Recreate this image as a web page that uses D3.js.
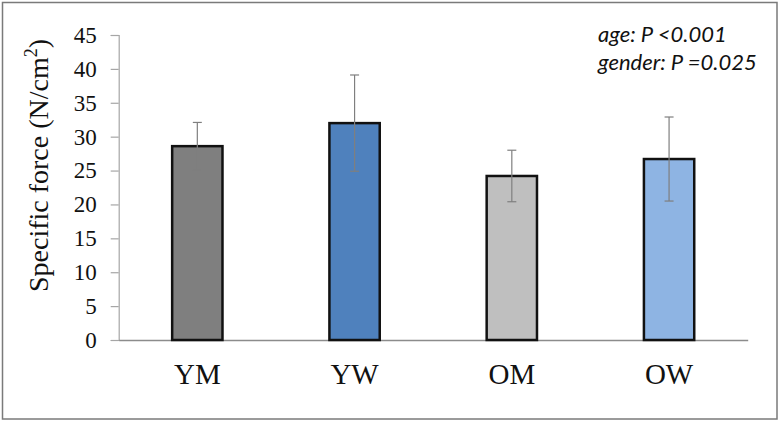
<!DOCTYPE html>
<html><head><meta charset="utf-8">
<script src="https://cdn.jsdelivr.net/npm/d3@7"></script>
<style>body{margin:0;background:#fff}svg{display:block}</style>
</head><body>
<svg id="c" width="780" height="422"></svg>
<script>
const categories = ["YM", "YW", "OM", "OW"];
const means = [28.6, 32.0, 24.2, 26.7];
const sds = [3.5, 7.1, 3.8, 6.2];
const colors = ["#7f7f7f", "#4f81bd", "#bfbfbf", "#8eb4e3"];
const yTicks = [0, 5, 10, 15, 20, 25, 30, 35, 40, 45];
const annotations = ["age: P <0.001", "gender: P =0.025"];

(function () {
const svg = d3.select("#c");
svg.append("rect").attr("x", 2.5).attr("y", 2.5).attr("width", 774.5).attr("height", 416.5)
  .attr("fill", "#fff").attr("stroke", "#7a7a7a").attr("stroke-width", 1.5);

const pL = 118.7, pR = 747.7, pT = 35, pB = 340;
const x = d3.scaleBand().domain(categories).range([pL, pR]).paddingInner(0.68).paddingOuter(0.34);
const y = d3.scaleLinear().domain([0, 45]).range([pB, pT]);

// y axis
const ya = svg.append("g").attr("transform", `translate(${pL},0)`)
  .call(d3.axisLeft(y).tickValues(yTicks).tickSize(8).tickPadding(14));
ya.select(".domain").attr("stroke", "#a6a6a6").attr("stroke-width", 1.2);
ya.selectAll(".tick line").attr("stroke", "#a6a6a6").attr("stroke-width", 1.2);
ya.selectAll(".tick text").attr("font-family", "'Liberation Serif', serif").attr("font-size", 23).attr("fill", "#111");

// x axis
const xa = svg.append("g").attr("transform", `translate(0,${pB})`)
  .call(d3.axisBottom(x).tickSize(0).tickPadding(23));
xa.select(".domain").attr("stroke", "#8c8c8c").attr("stroke-width", 1.5);
xa.selectAll(".tick text").attr("font-family", "'Liberation Serif', serif").attr("font-size", 29).attr("fill", "#111");

// bars
svg.append("g").selectAll("rect").data(categories).join("rect")
  .attr("x", d => x(d)).attr("width", x.bandwidth())
  .attr("y", (d, i) => y(means[i])).attr("height", (d, i) => y(0) - y(means[i]))
  .attr("fill", (d, i) => colors[i]).attr("stroke", "#111").attr("stroke-width", 2.5);

// error bars
const eb = svg.append("g").attr("stroke", "#7f7f7f").attr("stroke-width", 1.2);
categories.forEach((c, i) => {
  const cx = x(c) + x.bandwidth() / 2;
  eb.append("line").attr("x1", cx).attr("x2", cx).attr("y1", y(means[i] + sds[i])).attr("y2", y(means[i] - sds[i]));
  [means[i] + sds[i], means[i] - sds[i]].forEach(v => {
    eb.append("line").attr("x1", cx - 4.5).attr("x2", cx + 4.5).attr("y1", y(v)).attr("y2", y(v));
  });
});

// y label
svg.append("text").attr("transform", `translate(48,165.5) rotate(-90)`)
  .attr("text-anchor", "middle").attr("font-family", "'Liberation Serif', serif").attr("font-size", 28).attr("fill", "#111")
  .html('Specific force (N/cm<tspan dy="-11" font-size="18">2</tspan><tspan dy="11">)</tspan>');

// annotations
svg.append("g").selectAll("text").data(annotations).join("text")
  .attr("x", 598).attr("y", (d, i) => 42 + i * 28)
  .attr("font-family", "Lato, sans-serif").attr("font-style", "italic").attr("font-size", 22).attr("fill", "#111")
  .text(d => d);
})();
</script>
</body></html>
